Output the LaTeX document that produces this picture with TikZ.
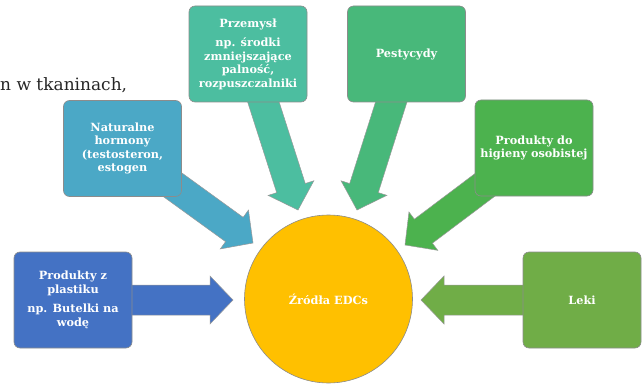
\documentclass[tikz,border=0pt]{standalone}
\usepackage{fontspec}
\setmainfont{DejaVu Serif}
\usetikzlibrary{calc}
\pgfdeclarelayer{bg}
\pgfsetlayers{bg,main}
\definecolor{cPlastic}{RGB}{68,114,196}
\definecolor{cHorm}{RGB}{75,168,198}
\definecolor{cIndu}{RGB}{76,190,160}
\definecolor{cPest}{RGB}{72,184,122}
\definecolor{cHyg}{RGB}{76,178,78}
\definecolor{cLeki}{RGB}{112,173,71}
\definecolor{cCirc}{RGB}{255,192,0}
\tikzset{
  srcbox/.style={draw=black!45, line width=0.6pt, rounded corners=6pt,
    minimum width=118pt, minimum height=96pt, inner sep=1pt, align=center,
    text=white, font=\bfseries\fontsize{11.3}{13.5}\selectfont},
  hub/.style={circle, draw=black!45, line width=0.6pt, fill=cCirc,
    minimum size=168pt, inner sep=0pt, text=white,
    font=\bfseries\fontsize{11.3}{13.5}\selectfont},
  arrowline/.style={draw=black!40, line width=0.5pt, line join=miter},
}
\newcommand\fatarrow[3]{%
  \coordinate (fa-h) at ($(#2)!23pt!(#1)$);
  \draw[arrowline, fill=#3] (#2)
    -- ($(fa-h)!24pt!90:(#2)$) -- ($(fa-h)!15pt!90:(#2)$)
    -- ($(#1)!15pt!90:(#2)$) -- ($(#1)!15pt!-90:(#2)$)
    -- ($(fa-h)!15pt!-90:(#2)$) -- ($(fa-h)!24pt!-90:(#2)$) -- cycle;
}
\begin{document}
\begin{tikzpicture}[x=1pt,y=-1pt]
\useasboundingbox (0,0) rectangle (642,385);
\node[anchor=base west, inner sep=0pt, text=black!85,
  font=\fontsize{17}{20}\selectfont] (frag) at (0,91) {n w tkaninach,};

\node[hub] (hub) at (328.5,299) {Źródła EDCs};

\node[srcbox, fill=cPlastic] (plastic) at (73,300)
  {Produkty z\\plastiku\\[6pt]np. Butelki na\\wodę};
\node[srcbox, fill=cHorm] (horm) at (122.5,148.5)
  {Naturalne\\hormony\\(testosteron,\\estogen};
\node[srcbox, fill=cIndu] (indu) at (248,54)
  {Przemysł\\[6pt]np. środki\\zmniejszające\\palność,\\rozpuszczalniki};
\node[srcbox, fill=cPest] (pest) at (406.5,54) {Pestycydy};
\node[srcbox, fill=cHyg] (hyg) at (534,148)
  {Produkty do\\higieny osobistej};
\node[srcbox, fill=cLeki] (leki) at (582,300) {Leki};

\coordinate (tPlastic) at (233,300);
\coordinate (tHorm) at (253,243);
\coordinate (tIndu) at (298,210);
\coordinate (tPest) at (357,210);
\coordinate (tHyg) at (405,245);
\coordinate (tLeki) at (421,300);

\begin{pgfonlayer}{bg}
\fatarrow{plastic}{tPlastic}{cPlastic}
\fatarrow{horm}{tHorm}{cHorm}
\fatarrow{indu}{tIndu}{cIndu}
\fatarrow{pest}{tPest}{cPest}
\fatarrow{hyg}{tHyg}{cHyg}
\fatarrow{leki}{tLeki}{cLeki}
\end{pgfonlayer}
\end{tikzpicture}
\end{document}
